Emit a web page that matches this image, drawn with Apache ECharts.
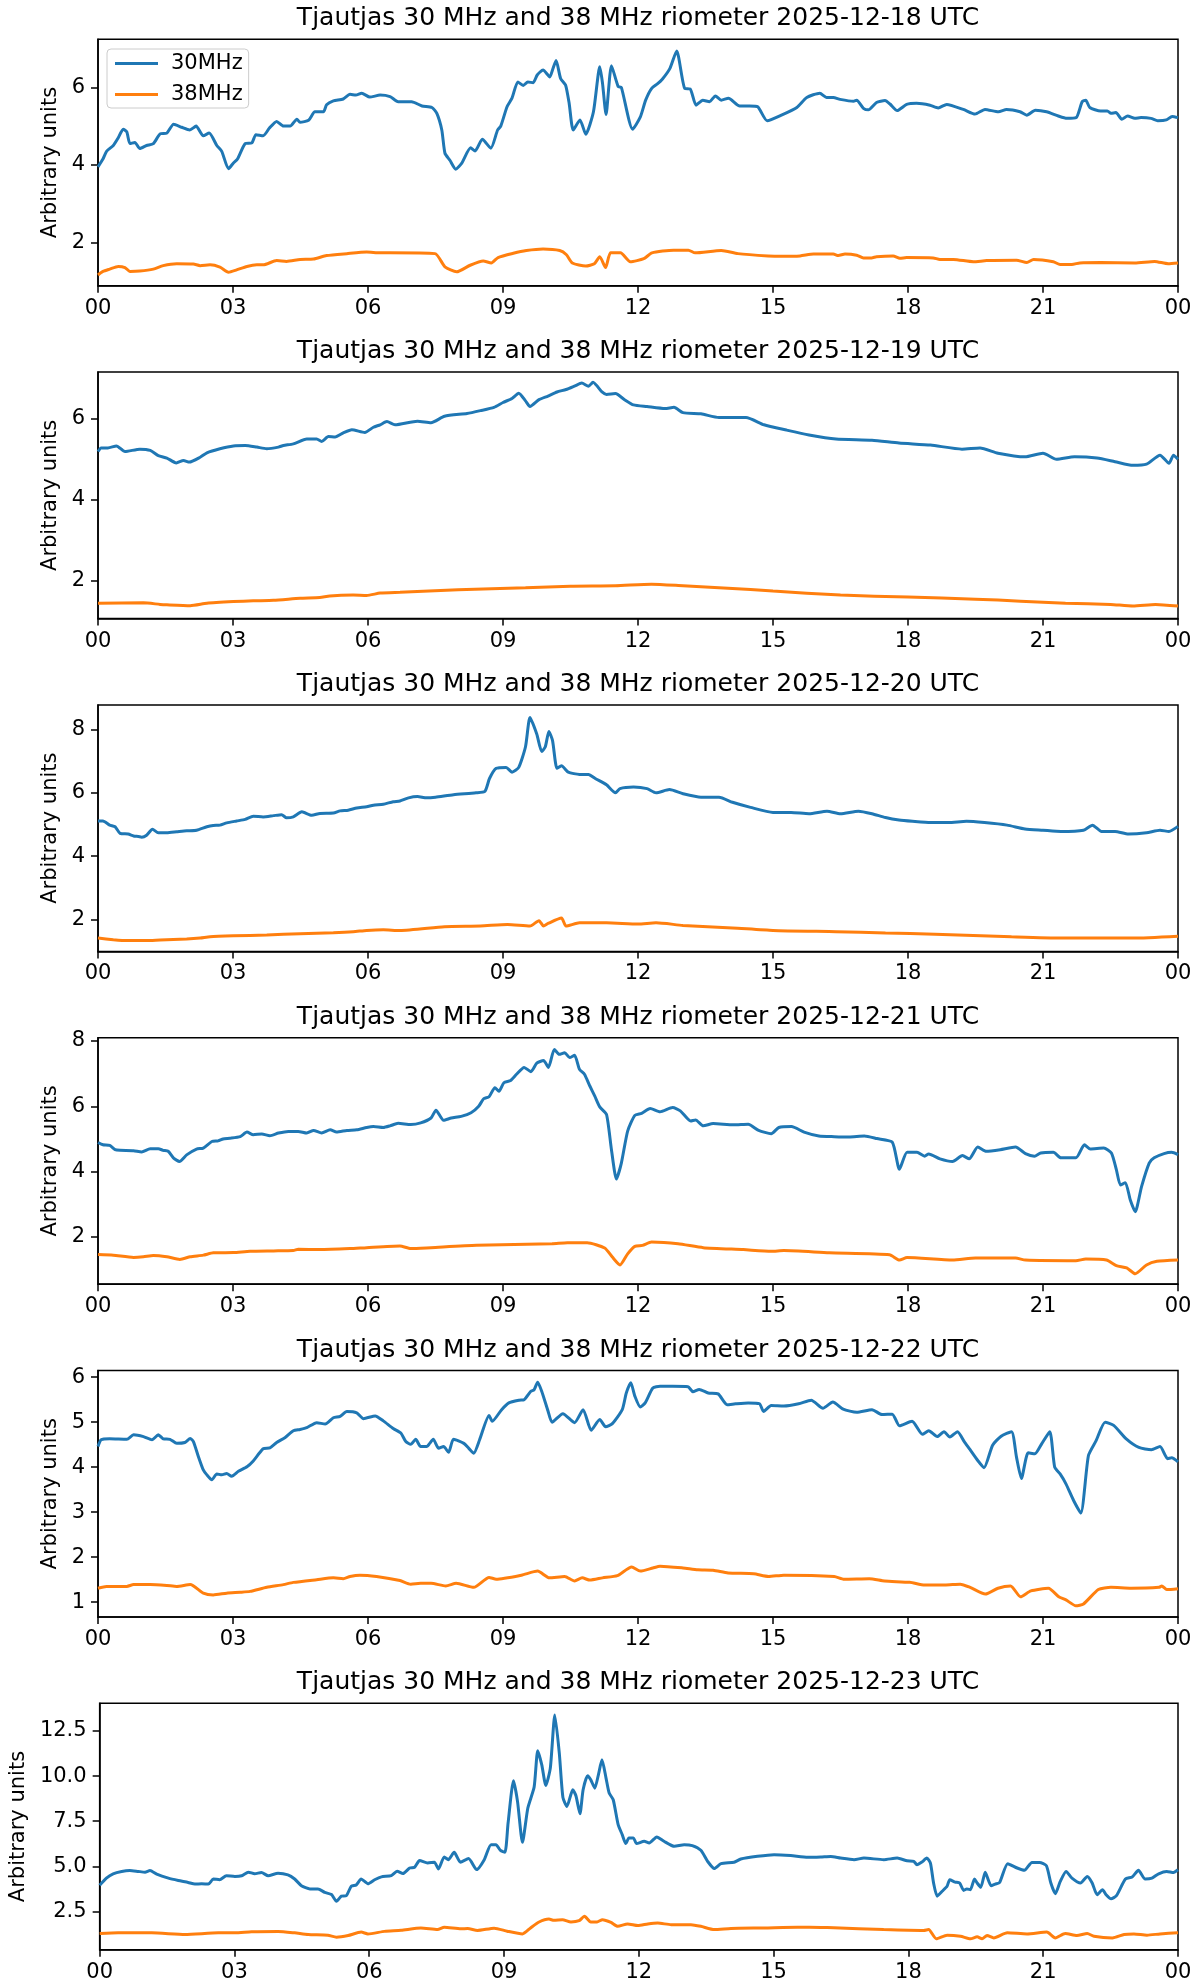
<!DOCTYPE html>
<html><head><meta charset="utf-8">
<script src="https://cdn.jsdelivr.net/npm/echarts@6/dist/echarts.min.js"></script>
<style>html,body{margin:0;padding:0;background:#fff}#c{width:1201px;height:1984px}</style>
</head><body><div id="c"></div>
<script>
// ---------- DATA (hour UTC, arbitrary units) ----------
const days = ['2025-12-18','2025-12-19','2025-12-20','2025-12-21','2025-12-22','2025-12-23'];
const seriesNames = ['30MHz','38MHz'];
const xTicks = [0,3,6,9,12,15,18,21,24];
const yLimits = [[0.88,7.24],[1.07,7.15],[1.0,8.77],[0.55,8.1],[0.67,6.15],[0.38,14.03]];
const yTicks = [[2,4,6],[2,4,6],[2,4,6,8],[2,4,6,8],[1,2,3,4,5,6],[2.5,5,7.5,10,12.5]];

const mhz30_18 = [[0,3.95],[.11,4.15],[.19,4.35],[.34,4.5],[.45,4.7],[.56,4.92],[.64,4.85],[.71,4.55],[.82,4.58],[.93,4.42],[1.08,4.5],[1.23,4.55],[1.38,4.8],[1.53,4.82],[1.68,5.05],[1.86,4.97],[2.04,4.9],[2.18,5.0],[2.34,4.75],[2.47,4.82],[2.64,4.5],[2.75,4.35],[2.90,3.9],[3.01,4.05],[3.10,4.15],[3.27,4.55],[3.42,4.57],[3.51,4.78],[3.67,4.75],[3.81,4.95],[3.97,5.12],[4.12,5.0],[4.27,5.0],[4.42,5.18],[4.49,5.1],[4.68,5.15],[4.82,5.37],[5.01,5.37],[5.08,5.55],[5.23,5.65],[5.45,5.7],[5.60,5.82],[5.73,5.8],[5.86,5.85],[6.04,5.75],[6.27,5.8],[6.49,5.76],[6.67,5.63],[6.97,5.63],[7.20,5.52],[7.42,5.48],[7.53,5.33],[7.64,4.9],[7.71,4.3],[7.82,4.12],[7.95,3.89],[8.08,4.04],[8.28,4.44],[8.38,4.36],[8.54,4.66],[8.73,4.43],[8.88,4.9],[8.95,5.0],[9.09,5.5],[9.20,5.72],[9.33,6.14],[9.45,6.05],[9.55,6.14],[9.67,6.12],[9.76,6.32],[9.89,6.45],[10.04,6.27],[10.10,6.45],[10.18,6.69],[10.28,6.23],[10.39,6.06],[10.47,5.59],[10.56,4.9],[10.71,5.16],[10.84,4.79],[11.01,5.37],[11.15,6.53],[11.21,6.12],[11.29,5.3],[11.41,6.56],[11.56,6.02],[11.63,6.0],[11.88,4.92],[12.05,5.23],[12.17,5.67],[12.30,5.97],[12.43,6.09],[12.54,6.21],[12.71,6.49],[12.86,6.94],[13.04,5.97],[13.16,5.96],[13.29,5.54],[13.44,5.67],[13.59,5.63],[13.72,5.78],[13.85,5.67],[14.01,5.72],[14.26,5.52],[14.48,5.52],[14.66,5.5],[14.87,5.14],[15.20,5.29],[15.53,5.48],[15.75,5.74],[16.04,5.85],[16.19,5.74],[16.34,5.74],[16.49,5.69],[16.79,5.64],[16.86,5.67],[17.01,5.46],[17.12,5.42],[17.30,5.61],[17.49,5.66],[17.60,5.57],[17.76,5.40],[17.97,5.56],[18.19,5.59],[18.49,5.54],[18.67,5.47],[18.86,5.56],[19.23,5.43],[19.49,5.31],[19.71,5.43],[20.01,5.37],[20.19,5.43],[20.49,5.37],[20.64,5.28],[20.83,5.41],[21.08,5.37],[21.34,5.26],[21.53,5.20],[21.74,5.22],[21.87,5.63],[21.95,5.67],[22.04,5.48],[22.28,5.39],[22.43,5.39],[22.51,5.33],[22.62,5.35],[22.75,5.18],[22.88,5.26],[23.04,5.20],[23.18,5.22],[23.40,5.20],[23.55,5.14],[23.74,5.16],[23.87,5.25],[24,5.22]];
const mhz38_18 = [[0,1.16],[.11,1.25],[.26,1.31],[.45,1.38],[.6,1.35],[.71,1.25],[.93,1.26],[1.23,1.31],[1.45,1.40],[1.75,1.45],[2.12,1.44],[2.27,1.40],[2.49,1.42],[2.71,1.36],[2.90,1.23],[3.08,1.29],[3.31,1.38],[3.53,1.42],[3.67,1.42],[3.97,1.53],[4.19,1.51],[4.49,1.56],[4.79,1.57],[5.08,1.66],[5.53,1.71],[5.97,1.75],[6.27,1.73],[6.49,1.73],[7.49,1.71],[7.71,1.37],[7.97,1.24],[8.27,1.41],[8.56,1.52],[8.74,1.47],[8.89,1.61],[9.23,1.72],[9.52,1.79],[9.89,1.83],[10.26,1.79],[10.41,1.68],[10.54,1.47],[10.84,1.39],[11.03,1.45],[11.15,1.63],[11.28,1.35],[11.39,1.73],[11.61,1.73],[11.83,1.50],[12.13,1.58],[12.31,1.73],[12.79,1.80],[13.12,1.80],[13.27,1.73],[13.85,1.79],[14.22,1.71],[14.89,1.65],[15.19,1.64],[15.6,1.65],[15.9,1.70],[16.34,1.70],[16.45,1.66],[16.6,1.70],[16.86,1.67],[17.01,1.60],[17.19,1.60],[17.30,1.63],[17.67,1.65],[17.82,1.59],[17.97,1.61],[18.56,1.60],[18.71,1.56],[19.01,1.56],[19.45,1.50],[19.75,1.53],[20.41,1.54],[20.64,1.48],[20.79,1.56],[21.23,1.50],[21.38,1.43],[21.64,1.43],[21.82,1.47],[22.28,1.48],[23.04,1.47],[23.48,1.51],[23.78,1.45],[24,1.47]];

const mhz30_19 = [[0,5.19],[.07,5.28],[.22,5.28],[.41,5.33],[.6,5.19],[.93,5.25],[1.16,5.22],[1.34,5.09],[1.53,5.03],[1.74,4.91],[1.9,4.97],[2.03,4.93],[2.27,5.05],[2.42,5.16],[2.71,5.26],[3.01,5.33],[3.27,5.34],[3.53,5.3],[3.75,5.26],[4.01,5.30],[4.12,5.34],[4.34,5.38],[4.64,5.50],[4.86,5.50],[4.97,5.44],[5.12,5.56],[5.27,5.55],[5.45,5.65],[5.64,5.73],[5.93,5.66],[6.12,5.79],[6.27,5.85],[6.42,5.93],[6.6,5.85],[7.1,5.94],[7.4,5.9],[7.7,6.06],[8.2,6.13],[8.5,6.2],[8.8,6.28],[9.0,6.4],[9.2,6.5],[9.35,6.63],[9.5,6.44],[9.6,6.3],[9.8,6.47],[10.0,6.56],[10.2,6.66],[10.4,6.72],[10.6,6.81],[10.75,6.88],[10.9,6.8],[11.0,6.9],[11.2,6.66],[11.3,6.6],[11.5,6.62],[11.7,6.47],[11.9,6.34],[12.2,6.3],[12.6,6.25],[12.8,6.28],[13.0,6.15],[13.4,6.12],[13.8,6.03],[14.4,6.03],[14.8,5.85],[15.3,5.72],[15.8,5.6],[16.4,5.5],[17.2,5.47],[17.8,5.4],[18.5,5.35],[19.2,5.25],[19.6,5.28],[20.0,5.15],[20.6,5.06],[21.0,5.15],[21.3,5.0],[21.7,5.06],[22.2,5.03],[22.6,4.94],[23.0,4.85],[23.3,4.88],[23.6,5.1],[23.8,4.9],[23.9,5.1],[24,5.0]];
const mhz38_19 = [[0,1.45],[1.01,1.46],[1.38,1.42],[1.53,1.41],[2.05,1.39],[2.42,1.45],[3.01,1.49],[3.45,1.51],[3.9,1.52],[4.49,1.57],[4.93,1.59],[5.15,1.63],[5.67,1.65],[5.97,1.64],[6.27,1.70],[6.71,1.72],[8,1.78],[9.5,1.83],[10.5,1.87],[11.5,1.88],[12.3,1.92],[13,1.88],[14,1.82],[15,1.75],[16.5,1.65],[18,1.6],[19.5,1.55],[20.5,1.5],[21.5,1.45],[22.5,1.42],[23,1.38],[23.5,1.42],[24,1.38]];

const mhz30_20 = [[0,5.11],[.11,5.11],[.26,4.98],[.38,4.93],[.49,4.72],[.67,4.70],[.79,4.64],[.9,4.62],[.97,4.6],[1.08,4.66],[1.21,4.85],[1.34,4.74],[1.53,4.74],[1.75,4.77],[1.97,4.8],[2.19,4.82],[2.42,4.93],[2.56,4.97],[2.71,4.98],[2.86,5.05],[3.08,5.11],[3.27,5.16],[3.45,5.26],[3.67,5.24],[3.9,5.28],[4.08,5.31],[4.19,5.21],[4.34,5.24],[4.53,5.40],[4.75,5.29],[4.93,5.35],[5.23,5.36],[5.38,5.43],[5.56,5.45],[5.75,5.52],[5.97,5.56],[6.12,5.61],[6.34,5.64],[6.56,5.72],[6.71,5.74],[6.9,5.84],[7.1,5.88],[7.3,5.84],[7.5,5.86],[7.9,5.94],[8.4,6.0],[8.6,6.05],[8.7,6.45],[8.85,6.77],[9.07,6.8],[9.2,6.65],[9.35,6.8],[9.5,7.45],[9.6,8.37],[9.75,7.85],[9.86,7.3],[9.94,7.45],[10.02,7.93],[10.1,7.65],[10.2,6.77],[10.3,6.85],[10.45,6.65],[10.7,6.58],[10.9,6.58],[11.05,6.45],[11.3,6.25],[11.5,6.0],[11.6,6.13],[11.9,6.18],[12.2,6.13],[12.4,6.0],[12.7,6.1],[13.0,5.97],[13.4,5.86],[13.8,5.86],[14.1,5.7],[14.5,5.54],[15.0,5.38],[15.4,5.38],[15.8,5.34],[16.2,5.42],[16.5,5.34],[16.9,5.42],[17.2,5.34],[17.5,5.22],[17.8,5.14],[18.1,5.1],[18.5,5.06],[18.9,5.06],[19.3,5.1],[19.7,5.06],[20.2,4.98],[20.6,4.86],[21.0,4.82],[21.4,4.78],[21.9,4.82],[22.1,4.98],[22.3,4.78],[22.6,4.78],[22.9,4.7],[23.3,4.74],[23.6,4.82],[23.8,4.78],[24,4.94]];
const mhz38_20 = [[0,1.42],[.34,1.37],[.64,1.34],[1.08,1.34],[1.38,1.36],[1.97,1.39],[2.27,1.42],[2.49,1.46],[3.01,1.49],[3.75,1.52],[4.49,1.56],[5.23,1.59],[5.67,1.62],[5.97,1.66],[6.34,1.68],[6.71,1.66],[7.7,1.78],[8.5,1.8],[9.1,1.85],[9.6,1.8],[9.8,1.97],[9.9,1.8],[10.0,1.88],[10.3,2.05],[10.4,1.8],[10.7,1.9],[11.3,1.9],[12,1.86],[12.4,1.9],[13,1.82],[14.1,1.74],[15,1.66],[16.4,1.62],[17.5,1.58],[18.6,1.54],[20.3,1.46],[21.4,1.42],[23,1.42],[24,1.48]];

const mhz30_21 = [[0,4.89],[.11,4.82],[.26,4.80],[.38,4.67],[.49,4.65],[.79,4.64],[.97,4.6],[1.16,4.7],[1.34,4.7],[1.45,4.65],[1.56,4.62],[1.68,4.41],[1.81,4.31],[1.97,4.51],[2.19,4.69],[2.34,4.72],[2.53,4.92],[2.67,4.94],[2.78,5.0],[2.93,5.02],[3.16,5.07],[3.31,5.21],[3.45,5.13],[3.64,5.15],[3.82,5.1],[4.01,5.18],[4.23,5.23],[4.45,5.23],[4.64,5.18],[4.79,5.26],[4.97,5.18],[5.16,5.28],[5.30,5.21],[5.53,5.26],[5.75,5.28],[5.97,5.35],[6.12,5.38],[6.34,5.35],[6.49,5.4],[6.67,5.48],[6.95,5.44],[7.17,5.49],[7.40,5.64],[7.51,5.88],[7.68,5.57],[7.85,5.64],[8.07,5.69],[8.29,5.8],[8.46,6.0],[8.57,6.23],[8.69,6.29],[8.82,6.57],[8.91,6.46],[9.02,6.72],[9.17,6.79],[9.3,6.98],[9.47,7.19],[9.62,7.06],[9.75,7.32],[9.9,7.4],[10.01,7.19],[10.14,7.74],[10.25,7.59],[10.37,7.64],[10.48,7.49],[10.59,7.56],[10.70,7.13],[10.81,6.98],[10.93,6.62],[11.04,6.31],[11.15,5.98],[11.3,5.75],[11.41,4.67],[11.52,3.77],[11.63,4.26],[11.77,5.24],[11.93,5.72],[12.08,5.78],[12.27,5.93],[12.49,5.83],[12.77,5.96],[12.94,5.86],[13.17,5.55],[13.28,5.58],[13.45,5.40],[13.67,5.47],[14.12,5.43],[14.45,5.45],[14.68,5.26],[14.96,5.16],[15.13,5.35],[15.41,5.38],[15.69,5.21],[16.02,5.09],[16.36,5.07],[16.69,5.06],[17.03,5.09],[17.31,5.01],[17.65,4.9],[17.81,4.07],[17.98,4.59],[18.2,4.59],[18.37,4.47],[18.46,4.54],[18.71,4.39],[18.99,4.31],[19.21,4.49],[19.36,4.39],[19.55,4.75],[19.74,4.62],[20.05,4.67],[20.39,4.75],[20.61,4.55],[20.81,4.47],[20.95,4.57],[21.23,4.59],[21.4,4.42],[21.73,4.42],[21.92,4.82],[22.05,4.69],[22.35,4.72],[22.52,4.57],[22.63,4.06],[22.72,3.59],[22.83,3.66],[22.94,3.13],[23.05,2.77],[23.19,3.54],[23.36,4.26],[23.47,4.42],[23.69,4.55],[23.86,4.59],[24,4.52]];
const mhz38_21 = [[0,1.46],[.34,1.44],[.79,1.37],[1.01,1.39],[1.23,1.43],[1.53,1.39],[1.82,1.31],[2.05,1.39],[2.34,1.44],[2.56,1.51],[3.01,1.52],[3.38,1.56],[3.9,1.57],[4.34,1.58],[4.45,1.62],[4.93,1.61],[5.6,1.64],[5.97,1.67],[6.71,1.72],[6.95,1.64],[7.4,1.67],[8.41,1.74],[10.09,1.79],[10.43,1.82],[10.87,1.82],[11.26,1.66],[11.43,1.38],[11.6,1.14],[11.77,1.48],[11.93,1.71],[12.1,1.74],[12.3,1.84],[12.89,1.79],[13.45,1.67],[14.34,1.61],[14.96,1.56],[15.24,1.58],[16.25,1.51],[17.59,1.45],[17.81,1.29],[17.98,1.37],[18.99,1.29],[19.5,1.35],[20.39,1.35],[20.61,1.29],[21.73,1.27],[21.95,1.32],[22.41,1.29],[22.63,1.12],[22.86,1.05],[23.05,0.87],[23.3,1.14],[23.53,1.25],[24,1.29]];

const mhz30_22 = [[0,4.46],[.07,4.61],[.26,4.63],[.64,4.62],[.79,4.72],[1.01,4.68],[1.2,4.61],[1.34,4.72],[1.45,4.63],[1.6,4.62],[1.75,4.53],[1.93,4.55],[2.05,4.64],[2.12,4.57],[2.23,4.24],[2.34,3.94],[2.42,3.83],[2.53,3.72],[2.64,3.85],[2.75,3.83],[2.86,3.86],[2.97,3.8],[3.12,3.91],[3.31,4.01],[3.45,4.14],[3.67,4.41],[3.82,4.43],[3.97,4.55],[4.16,4.66],[4.34,4.81],[4.49,4.84],[4.64,4.88],[4.86,4.99],[5.05,4.96],[5.23,5.1],[5.38,5.13],[5.53,5.24],[5.75,5.21],[5.9,5.08],[6.16,5.14],[6.34,5.03],[6.56,4.86],[6.73,4.76],[6.84,4.57],[6.95,4.51],[7.06,4.62],[7.17,4.46],[7.31,4.46],[7.37,4.53],[7.45,4.62],[7.57,4.42],[7.68,4.46],[7.79,4.33],[7.9,4.62],[8.13,4.53],[8.24,4.42],[8.35,4.31],[8.48,4.61],[8.69,5.15],[8.76,5.02],[8.97,5.28],[9.13,5.43],[9.36,5.49],[9.47,5.5],[9.62,5.69],[9.69,5.72],[9.77,5.89],[9.86,5.69],[10.0,5.25],[10.09,5.0],[10.33,5.19],[10.59,4.99],[10.78,5.28],[10.96,4.82],[11.15,5.06],[11.28,4.9],[11.43,4.97],[11.65,5.28],[11.74,5.65],[11.84,5.88],[11.93,5.58],[12.05,5.34],[12.16,5.43],[12.33,5.76],[12.49,5.8],[12.77,5.8],[13.11,5.79],[13.22,5.68],[13.36,5.73],[13.56,5.65],[13.78,5.63],[13.98,5.39],[14.17,5.41],[14.45,5.43],[14.70,5.41],[14.79,5.24],[14.96,5.37],[15.24,5.36],[15.57,5.41],[15.85,5.49],[16.11,5.31],[16.33,5.45],[16.56,5.29],[16.86,5.22],[17.2,5.28],[17.42,5.17],[17.65,5.18],[17.81,4.92],[18.09,5.02],[18.32,4.73],[18.46,4.81],[18.65,4.68],[18.8,4.79],[18.93,4.67],[19.1,4.79],[19.25,4.57],[19.38,4.39],[19.55,4.15],[19.69,3.99],[19.88,4.49],[20.07,4.69],[20.3,4.79],[20.41,4.23],[20.52,3.75],[20.67,4.32],[20.82,4.3],[20.97,4.52],[21.15,4.79],[21.26,4.0],[21.38,3.85],[21.51,3.63],[21.68,3.26],[21.84,2.98],[22.01,4.26],[22.18,4.59],[22.38,5.0],[22.57,4.93],[22.85,4.63],[23.13,4.44],[23.41,4.39],[23.6,4.46],[23.77,4.19],[23.86,4.21],[24,4.12]];
const mhz38_22 = [[0,1.31],[.19,1.35],[.64,1.35],[.79,1.39],[1.16,1.39],[1.53,1.37],[1.75,1.35],[2.05,1.39],[2.34,1.2],[2.56,1.16],[2.86,1.2],[3.16,1.22],[3.38,1.24],[3.75,1.33],[4.12,1.39],[4.34,1.44],[4.86,1.5],[5.23,1.54],[5.45,1.52],[5.6,1.57],[5.82,1.6],[6.19,1.57],[6.71,1.48],[6.95,1.40],[7.17,1.42],[7.4,1.42],[7.73,1.36],[7.96,1.42],[8.35,1.33],[8.69,1.55],[8.85,1.51],[9.41,1.6],[9.77,1.69],[10.03,1.54],[10.37,1.57],[10.59,1.47],[10.76,1.54],[10.93,1.49],[11.21,1.54],[11.54,1.59],[11.86,1.78],[12.05,1.69],[12.33,1.76],[12.49,1.8],[13.0,1.76],[13.33,1.72],[13.67,1.71],[14.0,1.65],[14.57,1.63],[14.9,1.57],[15.24,1.6],[16.36,1.57],[16.58,1.51],[17.14,1.52],[17.48,1.47],[18.04,1.44],[18.37,1.38],[18.82,1.38],[19.16,1.40],[19.38,1.33],[19.72,1.18],[20.0,1.31],[20.28,1.36],[20.5,1.12],[20.73,1.25],[21.12,1.31],[21.35,1.12],[21.51,1.05],[21.73,0.92],[21.9,0.96],[22.23,1.28],[22.51,1.33],[22.96,1.31],[23.58,1.33],[23.64,1.36],[23.75,1.28],[24,1.30]];

const mhz30_23 = [[0,3.95],[.15,4.35],[.3,4.59],[.49,4.72],[.67,4.77],[.86,4.72],[1.01,4.68],[1.12,4.77],[1.27,4.57],[1.53,4.35],[1.75,4.22],[1.97,4.11],[2.12,4.02],[2.27,4.04],[2.42,4.02],[2.53,4.3],[2.67,4.26],[2.82,4.48],[3.01,4.44],[3.16,4.48],[3.31,4.68],[3.45,4.59],[3.6,4.66],[3.75,4.48],[3.97,4.62],[4.19,4.53],[4.34,4.30],[4.49,3.93],[4.68,3.75],[4.86,3.75],[5.01,3.56],[5.16,3.44],[5.27,3.07],[5.38,3.35],[5.49,3.38],[5.6,3.90],[5.71,3.97],[5.82,4.3],[5.97,4.04],[6.12,4.26],[6.27,4.42],[6.49,4.49],[6.62,4.73],[6.75,4.6],[6.9,4.91],[7.01,4.95],[7.12,5.32],[7.3,5.19],[7.45,5.23],[7.54,4.86],[7.67,5.52],[7.76,5.37],[7.89,5.78],[8.03,5.23],[8.21,5.43],[8.39,4.82],[8.56,5.37],[8.71,6.2],[8.82,6.2],[8.92,5.88],[9.02,5.78],[9.09,7.4],[9.21,9.74],[9.3,8.6],[9.41,6.33],[9.53,8.23],[9.67,9.39],[9.75,11.4],[9.84,10.62],[9.93,9.48],[10.03,10.44],[10.13,13.38],[10.23,11.27],[10.31,8.82],[10.4,8.32],[10.53,9.24],[10.6,8.91],[10.69,7.92],[10.76,9.24],[10.86,10.02],[10.93,9.8],[11.02,9.33],[11.1,10.07],[11.18,10.9],[11.27,9.89],[11.34,9.06],[11.43,8.69],[11.54,7.31],[11.63,6.76],[11.71,6.26],[11.78,6.57],[11.88,6.57],[11.95,6.26],[12.12,6.39],[12.23,6.3],[12.4,6.63],[12.56,6.39],[12.79,6.11],[13.01,6.2],[13.19,6.15],[13.38,5.89],[13.53,5.28],[13.68,4.88],[13.83,5.15],[14.12,5.23],[14.27,5.41],[14.64,5.56],[15.01,5.65],[15.38,5.6],[15.76,5.5],[16.05,5.52],[16.27,5.55],[16.49,5.46],[16.79,5.37],[17.01,5.46],[17.45,5.37],[17.75,5.46],[17.97,5.31],[18.12,5.28],[18.19,5.09],[18.3,5.24],[18.41,5.46],[18.49,5.18],[18.56,4.08],[18.64,3.35],[18.75,3.62],[18.86,3.9],[18.92,4.26],[19.04,4.13],[19.14,4.08],[19.23,3.67],[19.3,3.75],[19.38,3.71],[19.47,4.3],[19.53,4.08],[19.61,3.84],[19.71,4.67],[19.84,3.93],[19.93,4.02],[20.03,4.11],[20.21,5.15],[20.42,4.91],[20.58,4.78],[20.75,5.22],[20.92,5.22],[21.07,5.04],[21.17,4.08],[21.27,3.49],[21.38,4.17],[21.51,4.72],[21.64,4.35],[21.83,4.08],[21.98,4.44],[22.09,4.08],[22.2,3.43],[22.32,3.71],[22.4,3.43],[22.51,3.2],[22.63,3.38],[22.83,4.3],[22.98,4.41],[23.12,4.78],[23.27,4.3],[23.42,4.35],[23.57,4.59],[23.75,4.72],[23.9,4.66],[24,4.81]];
const mhz38_23 = [[0,1.28],[.41,1.32],[1.16,1.32],[1.9,1.23],[2.64,1.32],[3.01,1.32],[3.38,1.38],[3.97,1.4],[4.34,1.32],[4.64,1.23],[5.08,1.19],[5.27,1.08],[5.53,1.17],[5.82,1.36],[5.97,1.26],[6.34,1.4],[6.71,1.46],[7.15,1.59],[7.52,1.5],[7.67,1.63],[8.04,1.54],[8.19,1.56],[8.41,1.45],[8.78,1.58],[9.07,1.41],[9.41,1.26],[9.59,1.59],[9.78,1.92],[10.0,2.08],[10.11,2.01],[10.3,2.05],[10.49,1.92],[10.67,1.99],[10.79,2.24],[10.93,1.92],[11.07,1.92],[11.19,2.05],[11.38,1.9],[11.53,1.68],[11.75,1.81],[11.98,1.72],[12.2,1.81],[12.42,1.86],[12.72,1.77],[13.16,1.77],[13.38,1.68],[13.68,1.5],[14.05,1.56],[14.79,1.59],[15.53,1.63],[16.05,1.62],[16.34,1.6],[17.45,1.5],[18.34,1.45],[18.45,1.5],[18.62,0.99],[18.86,1.19],[19.16,1.13],[19.38,0.99],[19.53,1.1],[19.64,0.99],[19.75,1.17],[19.9,1.04],[20.2,1.32],[20.64,1.26],[21.08,1.36],[21.27,1.04],[21.49,1.28],[21.75,1.17],[21.98,1.28],[22.13,1.13],[22.54,1.04],[22.8,1.23],[23.02,1.26],[23.31,1.19],[23.6,1.26],[24,1.32]];

const mhz30 = [mhz30_18, mhz30_19, mhz30_20, mhz30_21, mhz30_22, mhz30_23];
const mhz38 = [mhz38_18, mhz38_19, mhz38_20, mhz38_21, mhz38_22, mhz38_23];

// ---------- LAYOUT / STYLE ----------
const FONT = 'DejaVu Sans';
const C30 = '#1f77b4', C38 = '#ff7f0e';
const L = 98, R = 23, H = 246.5, TOP0 = 39.3, STEP = 332.8;
const chart = echarts.init(document.getElementById('c'), null, {renderer: 'canvas'});

const grids = [], xAxes = [], yAxes = [], titles = [], series = [];
days.forEach((d, i) => {
  const top = TOP0 + i * STEP;
  grids.push({left: L, right: R, top: top, height: H, show: true, borderColor: '#000', borderWidth: 1.5, backgroundColor: 'transparent'});
  titles.push({text: 'Tjautjas 30 MHz and 38 MHz riometer ' + d + ' UTC', left: 638, top: top - 33, textAlign: 'center', padding: 0,
    textStyle: {fontFamily: FONT, fontSize: 25, fontWeight: 'normal', color: '#000'}});
  xAxes.push({type: 'value', gridIndex: i, min: 0, max: 24, interval: 3,
    axisLine: {show: true, lineStyle: {color: '#000', width: 1.5}},
    axisTick: {show: true, length: 7, lineStyle: {color: '#000', width: 1.5}},
    axisLabel: {fontFamily: FONT, fontSize: 21, color: '#000', margin: 12,
      formatter: v => String(v % 24).padStart(2, '0')},
    splitLine: {show: false}});
  yAxes.push({type: 'value', gridIndex: i, min: yLimits[i][0], max: yLimits[i][1],
    name: 'Arbitrary units', nameLocation: 'middle', nameGap: 34, nameRotate: 90,
    nameTextStyle: {fontFamily: FONT, fontSize: 21, color: '#000'},
    axisLine: {show: true, lineStyle: {color: '#000', width: 1.5}},
    axisTick: {show: true, length: 7, lineStyle: {color: '#000', width: 1.5}, customValues: yTicks[i]},
    axisLabel: {fontFamily: FONT, fontSize: 21, color: '#000', margin: 13, customValues: yTicks[i],
      formatter: v => (i === 5 ? Number(v).toFixed(1) : String(v))},
    splitLine: {show: false}});
  series.push({type: 'line', name: seriesNames[0], xAxisIndex: i, yAxisIndex: i, data: mhz30[i], smooth: 0.2,
    symbol: 'none', showSymbol: false, lineStyle: {color: C30, width: 3}, itemStyle: {color: C30}, z: 3});
  series.push({type: 'line', name: seriesNames[1], xAxisIndex: i, yAxisIndex: i, data: mhz38[i], smooth: 0.2,
    symbol: 'none', showSymbol: false, lineStyle: {color: C38, width: 3}, itemStyle: {color: C38}, z: 3});
});

chart.setOption({
  animation: false,
  backgroundColor: '#fff',
  title: titles,
  grid: grids,
  xAxis: xAxes,
  yAxis: yAxes,
  legend: {data: seriesNames, orient: 'vertical', left: 107, top: 49, icon: 'rect', itemWidth: 43, itemHeight: 3, itemGap: 10,
    padding: [4, 6, 3, 8], backgroundColor: 'rgba(255,255,255,0.8)', borderColor: '#cccccc', borderWidth: 1, borderRadius: 4,
    textStyle: {fontFamily: FONT, fontSize: 21, lineHeight: 20, color: '#000', padding: [0, 0, 0, 8]}, selectedMode: false, z: 10},
  series: series
});
</script></body></html>
